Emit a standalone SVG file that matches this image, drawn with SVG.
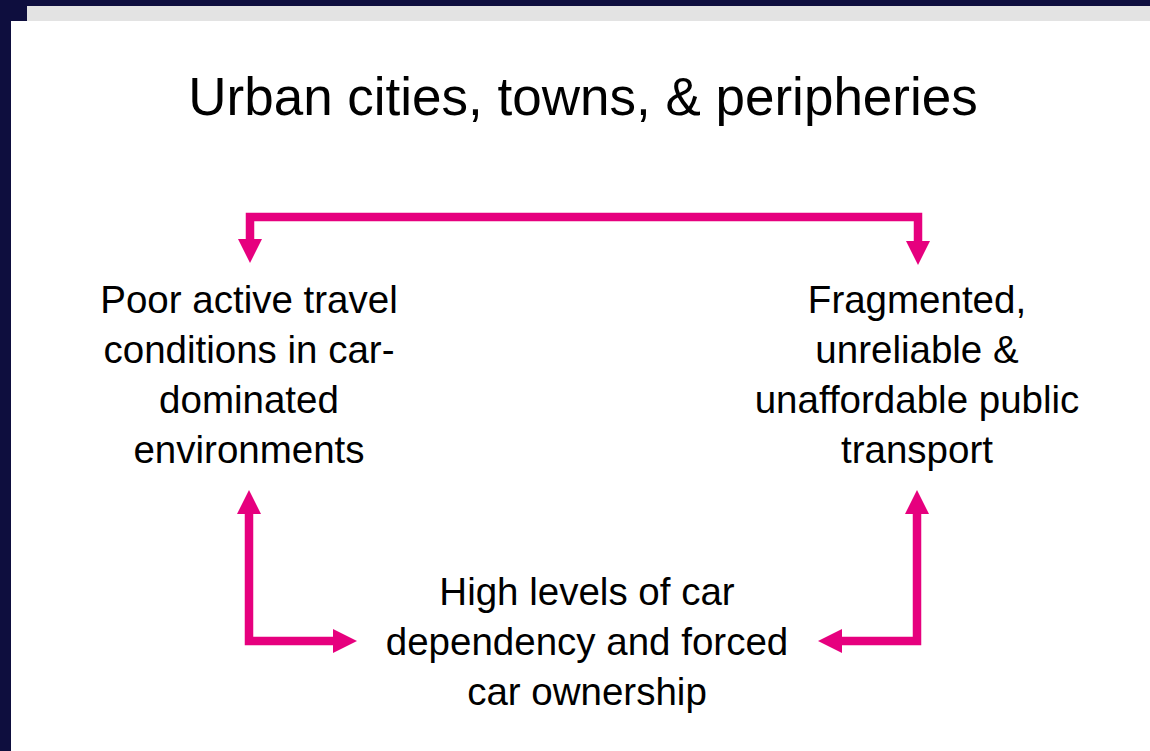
<svg xmlns="http://www.w3.org/2000/svg" width="1150" height="751" viewBox="0 0 1150 751">
  <style>
    .title { font-family: "Liberation Sans", Arial, sans-serif; font-size: 53px; fill: #000; text-anchor: middle; }
    .label { font-family: "Liberation Sans", Arial, sans-serif; font-size: 38.5px; fill: #000; text-anchor: middle; }
    .conn { fill: none; stroke: #E6007E; stroke-width: 8.5; stroke-linejoin: miter; stroke-linecap: butt; }
  </style>
  <defs>
    <marker id="head" markerUnits="userSpaceOnUse" markerWidth="24" markerHeight="24" viewBox="0 -12 24 24" refX="0" refY="0" orient="auto-start-reverse">
      <path d="M0,-12 L24,0 L0,12 Z" fill="#E6007E"/>
    </marker>
  </defs>
  <g id="background">
    <rect x="0" y="0" width="1150" height="751" fill="#0E0E3E"/>
    <rect x="27" y="6" width="1123" height="15" fill="#E3E3E3"/>
    <rect x="11" y="21" width="1139" height="730" fill="#FFFFFF"/>
  </g>
  <text class="title" x="583" y="115">Urban cities, towns, &amp; peripheries</text>
  <g id="connectors">
    <path class="conn" d="M250,239 V217 H918 V241" marker-start="url(#head)" marker-end="url(#head)"/>
    <path class="conn" d="M249,514 V641 H333" marker-start="url(#head)" marker-end="url(#head)"/>
    <path class="conn" d="M917,514 V641 H842" marker-start="url(#head)" marker-end="url(#head)"/>
  </g>
  <g id="node-active-travel">
    <text class="label" x="249" y="313">Poor active travel</text>
    <text class="label" x="249" y="363">conditions in car-</text>
    <text class="label" x="249" y="413">dominated</text>
    <text class="label" x="249" y="463">environments</text>
  </g>
  <g id="node-public-transport">
    <text class="label" x="917" y="313">Fragmented,</text>
    <text class="label" x="917" y="363">unreliable &amp;</text>
    <text class="label" x="917" y="413">unaffordable public</text>
    <text class="label" x="917" y="463">transport</text>
  </g>
  <g id="node-car-dependency">
    <text class="label" x="587" y="605">High levels of car</text>
    <text class="label" x="587" y="655">dependency and forced</text>
    <text class="label" x="587" y="705">car ownership</text>
  </g>
</svg>
